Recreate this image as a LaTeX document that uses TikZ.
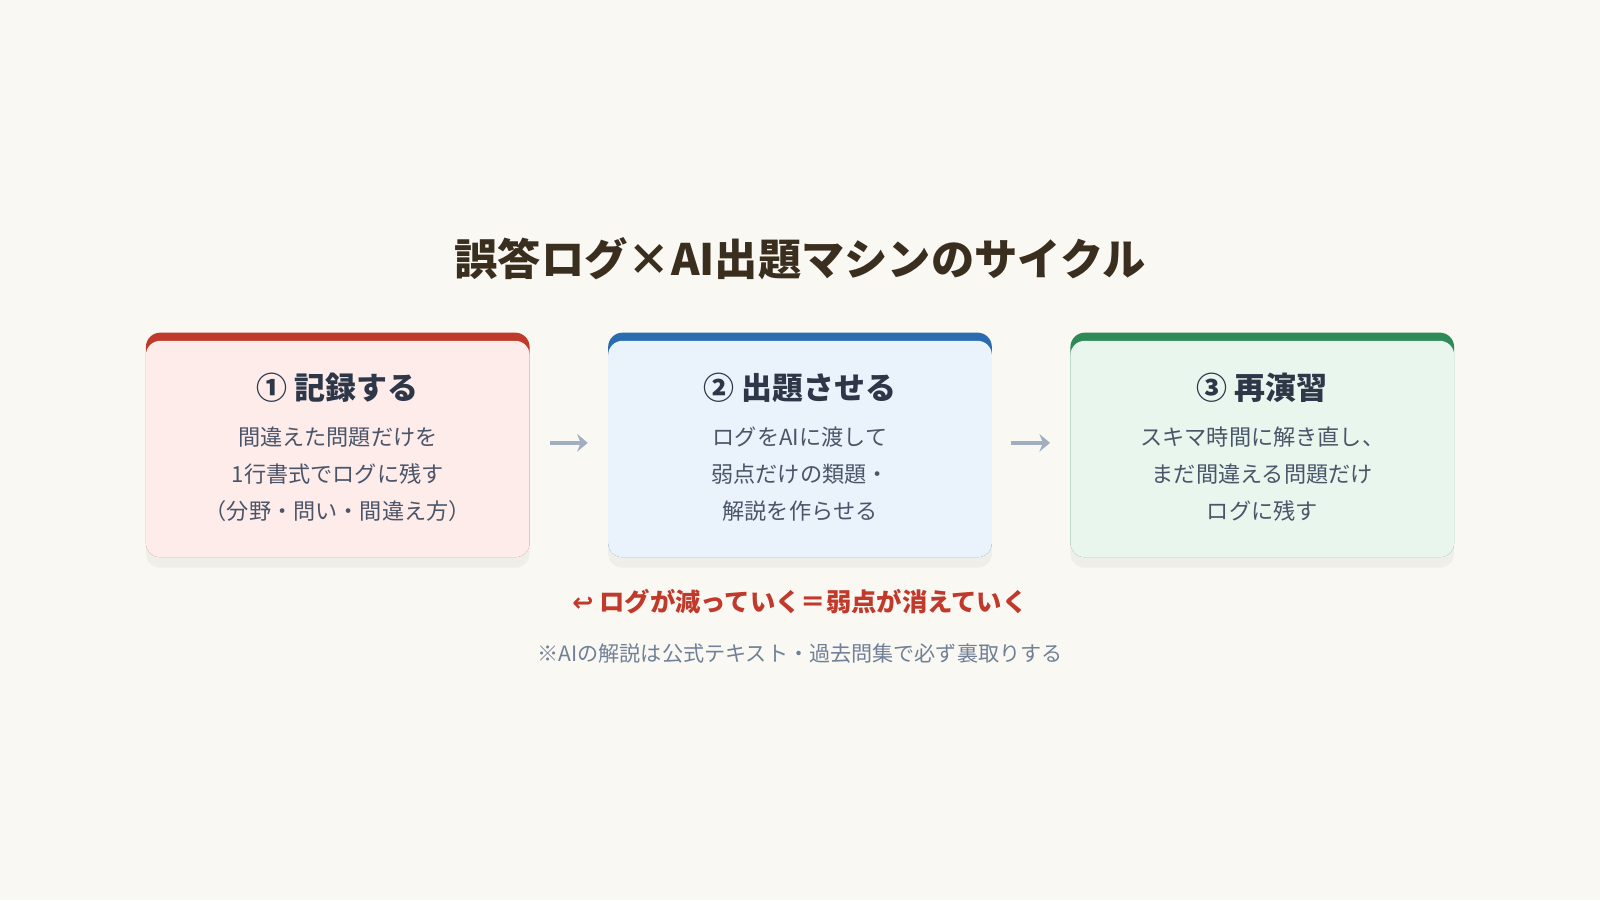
\documentclass[tikz,border=0pt]{standalone}
\usepackage{fontspec}
\setmainfont{Noto Sans CJK JP}
\newfontfamily\djv{DejaVu Sans}
\usetikzlibrary{shadows,arrows.meta}
\definecolor{bg}{HTML}{FAF8F3}
\definecolor{ttl}{HTML}{3A2E1F}
\definecolor{hd}{HTML}{2D3748}
\definecolor{bd}{HTML}{4A5568}
\definecolor{nt}{HTML}{718096}
\definecolor{ar}{HTML}{A0AEC0}
\definecolor{rr}{HTML}{C0392B}
\definecolor{bb}{HTML}{2B6CB0}
\definecolor{gg}{HTML}{2E8B57}
\definecolor{fr}{HTML}{FDECEA}
\definecolor{fb}{HTML}{EAF2FC}
\definecolor{fg}{HTML}{E9F6EE}
\begin{document}
\begin{tikzpicture}[x=0.0102cm,y=-0.0102cm,
 band/.style={minimum width=376*0.0102cm,minimum height=220*0.0102cm,rounded corners=14*0.0102cm,inner sep=0,fill=#1,
   drop shadow={opacity=0.08,shadow xshift=0pt,shadow yshift=-3pt}},
 card/.style={minimum width=376*0.0102cm,minimum height=212*0.0102cm,rounded corners=14*0.0102cm,inner sep=0,fill=#1},
 head/.style={font=\bfseries\fontsize{8.8}{10}\selectfont,text=hd},
 body/.style={font=\fontsize{6.3}{10.5}\selectfont,text=bd,align=center},
 arr/.style={draw=ar,line width=1.2pt,-{Stealth[length=3pt,width=5pt]},shorten <=20*0.0102cm,shorten >=20*0.0102cm}]
\fill[bg] (0,0) rectangle (1568,882);
\useasboundingbox (0,0) rectangle (1568,882);
\node[font=\bfseries\fontsize{12.3}{14}\selectfont,text=ttl] (t) at (784,254) {誤答ログ×AI出題マシンのサイクル};
\node[band=rr] (b1) at (331,436) {};
\node[band=bb] (b2) at (784,436) {};
\node[band=gg] (b3) at (1237,436) {};
\node[card=fr] (c1) at (331,440) {};
\node[card=fb] (c2) at (784,440) {};
\node[card=fg] (c3) at (1237,440) {};
\node[head] (h1) at (331,380) {① 記録する};
\node[head] (h2) at (784,380) {② 出題させる};
\node[head] (h3) at (1237,380) {③ 再演習};
\node[body] (d1) at (331,465) {間違えた問題だけを\\1行書式でログに残す\\（分野・問い・間違え方）};
\node[body] (d2) at (784,465) {ログをAIに渡して\\弱点だけの類題・\\解説を作らせる};
\node[body] (d3) at (1237,465) {スキマ時間に解き直し、\\まだ間違える問題だけ\\ログに残す};
\coordinate (a1) at (519,434); \coordinate (a2) at (596,434);
\coordinate (a3) at (971,434); \coordinate (a4) at (1049,434);
\draw[arr] (a1) -- (a2);
\draw[arr] (a3) -- (a4);
\node[font=\bfseries\fontsize{7.2}{9}\selectfont,text=rr] (r) at (784,590) {{\djv ↩} ログが減っていく＝弱点が消えていく};
\node[font=\fontsize{6}{8}\selectfont,text=nt] (n) at (784,640) {※AIの解説は公式テキスト・過去問集で必ず裏取りする};
\end{tikzpicture}
\end{document}
